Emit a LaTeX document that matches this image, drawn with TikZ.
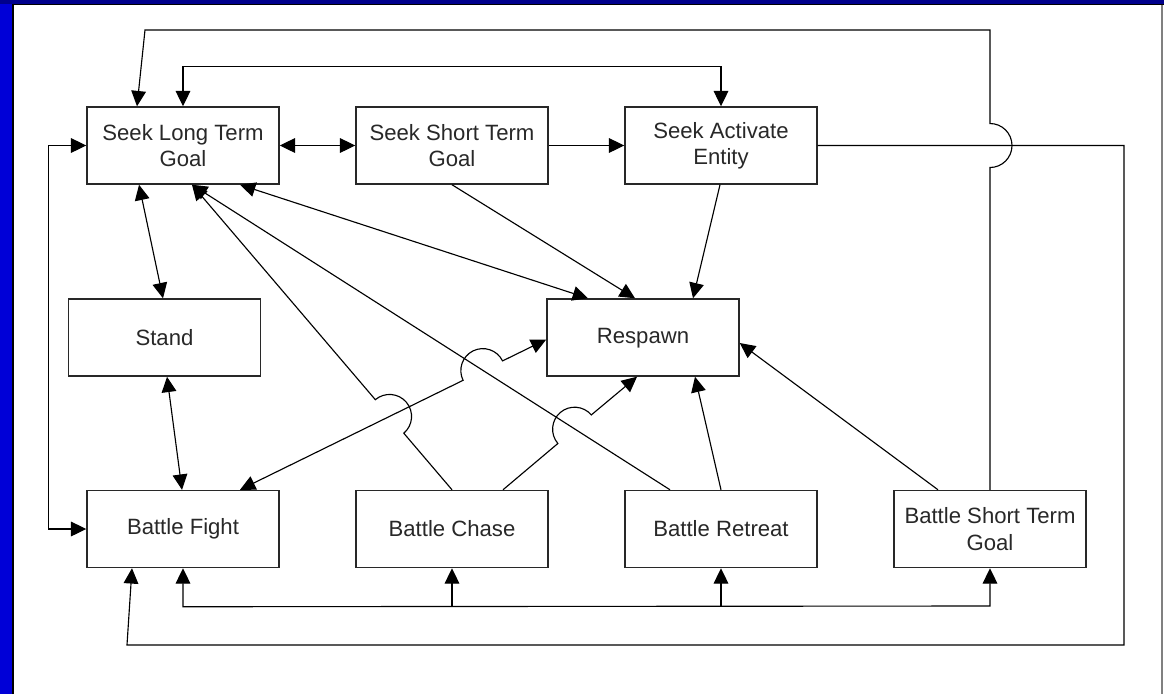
\documentclass[tikz,border=0pt]{standalone}
\usepackage{fontspec}
\setmainfont{Liberation Sans}
\usetikzlibrary{arrows.meta,calc}
\definecolor{slideblue}{RGB}{0,0,215}
\definecolor{slidenavy}{RGB}{0,0,140}
\definecolor{ink}{RGB}{40,40,40}

\begin{document}
\begin{tikzpicture}[x=0.75pt,y=-0.75pt,
  state/.style={draw=ink, line width=1.1pt, fill=white,
    minimum width=144pt, minimum height=57.75pt, inner sep=0pt,
    align=center, text=ink, font=\fontsize{16.6}{19.8}\selectfont},
  link/.style={draw=black, line width=0.85pt,
    >={Triangle[length=11.5pt,width=11pt]}},
]
\useasboundingbox (0,0) rectangle (1164,694);

% slide frame
\fill[slideblue] (0,0) rectangle (1164,694);
\fill[slidenavy] (0,0) rectangle (1164,4);
\fill[white] (13,4.5) rectangle (1164,694);
\draw[black, line width=1.4pt] (13,694) -- (13,4.5) -- (1164,4.5);
\draw[gray, line width=0.8pt] (1162,4.5) -- (1162,694);

% states
\node[state] (sltg) at (183,145.5) {Seek Long Term\\Goal};
\node[state] (sstg) at (452,145.5) {Seek Short Term\\Goal};
\node[state] (sae)  at (721,145.5) {Seek Activate\\Entity};
\node[state] (stand) at (164.5,337.5) {Stand};
\node[state] (resp) at (643,337.5) {Respawn\vphantom{d}};
\node[state] (bf)   at (183,529) {Battle Fight};
\node[state] (bc)   at (452,529) {Battle Chase};
\node[state] (br)   at (721,529) {Battle Retreat};
\node[state] (bstg) at (990,529) {Battle Short Term\\Goal};

% attachment points
\coordinate (bfR)   at ($(bf.north)+(57,0)$);
\coordinate (respL) at ($(resp.west)+(0,2)$);
\coordinate (sltgB) at ($(sltg.south)+(9,0)$);
\coordinate (brL)   at ($(br.north)+(-51,0)$);
\coordinate (bcR)   at ($(bc.north)+(51,0)$);
\coordinate (respB) at ($(resp.south)+(-6,0)$);

% top row
\draw[link,<->] (sltg.east) -- (sstg.west);
\draw[link,->] (sstg.east) -- (sae.west);
\draw[link,<->] (sltg.north) -- ++(0,-40) -| (sae.north);

% long loop from Battle Short Term Goal, hopping over the outer line
\draw[link,->] (bstg.north) -- (990,167.5)
  arc[start angle=-90,end angle=90,radius=16.5pt]
  -- (990,30) -- (145,30) -- ($(sltg.north)+(-46,0)$);

% outer loop back to Battle Fight
\draw[link,->] (sae.east) -- (1124,145.5) -- (1124,645) -- (127,645)
  -- ($(bf.south)+(-51,0)$);

% bottom bus
\coordinate (busbc) at ($(bc.south)+(0,38.5)$);
\coordinate (busbr) at ($(br.south)+(0,38.5)$);
\draw[link,<->] (bf.south) -- ++(0,38.5) -- (990,606) -- (bstg.south);
\draw[link,->] (busbc) -- (bc.south);
\draw[link,->] (busbr) -- (br.south);

% left loop
\draw[link,<->] (sltg.west) -- ++(-38,0) |- (bf.west);

% Stand
\draw[link,<->] ($(sltg.south)+(-44,0)$) -- ($(stand.north)+(-1.5,0)$);
\draw[link,<->] ($(stand.south)+(2.5,0)$) -- ($(bf.north)+(-1,0)$);

% into Respawn from above
\draw[link,<->] ($(sltg.south)+(57,0)$) -- ($(resp.north)+(-55,0)$);
\draw[link,->] (sstg.south) -- ($(resp.north)+(-8,0)$);
\draw[link,->] ($(sae.south)+(-1,0)$) -- ($(resp.north)+(50,0)$);

% Battle Fight <-> Respawn, hopping over the Battle Retreat line
\draw[link,<->] (bfR) -- ($(bfR)!0.7284!(respL)$)
  arc[start angle=206.19,end angle=26.19,radius=16.5pt] -- (respL);

% Battle Chase -> Seek Long Term Goal, hopping over the Battle Fight line
\draw[link,->] (bc.north) -- ($(bc.north)!0.1854!(sltgB)$)
  arc[start angle=310.31,end angle=490.31,radius=16.5pt] -- (sltgB);

% Battle Chase -> Respawn, hopping over the Battle Retreat line
\draw[link,->] (bcR) -- ($(bcR)!0.4095!(respB)$)
  arc[start angle=220.51,end angle=40.51,radius=16.5pt] -- (respB);

% Battle Retreat
\draw[link,->] (brL) -- (sltgB);
\draw[link,->] (br.north) -- ($(resp.south)+(52,0)$);

% Battle Short Term Goal -> Respawn
\draw[link,->] ($(bstg.north)+(-52,0)$) -- ($(resp.east)+(0,5.5)$);
\end{tikzpicture}
\end{document}
